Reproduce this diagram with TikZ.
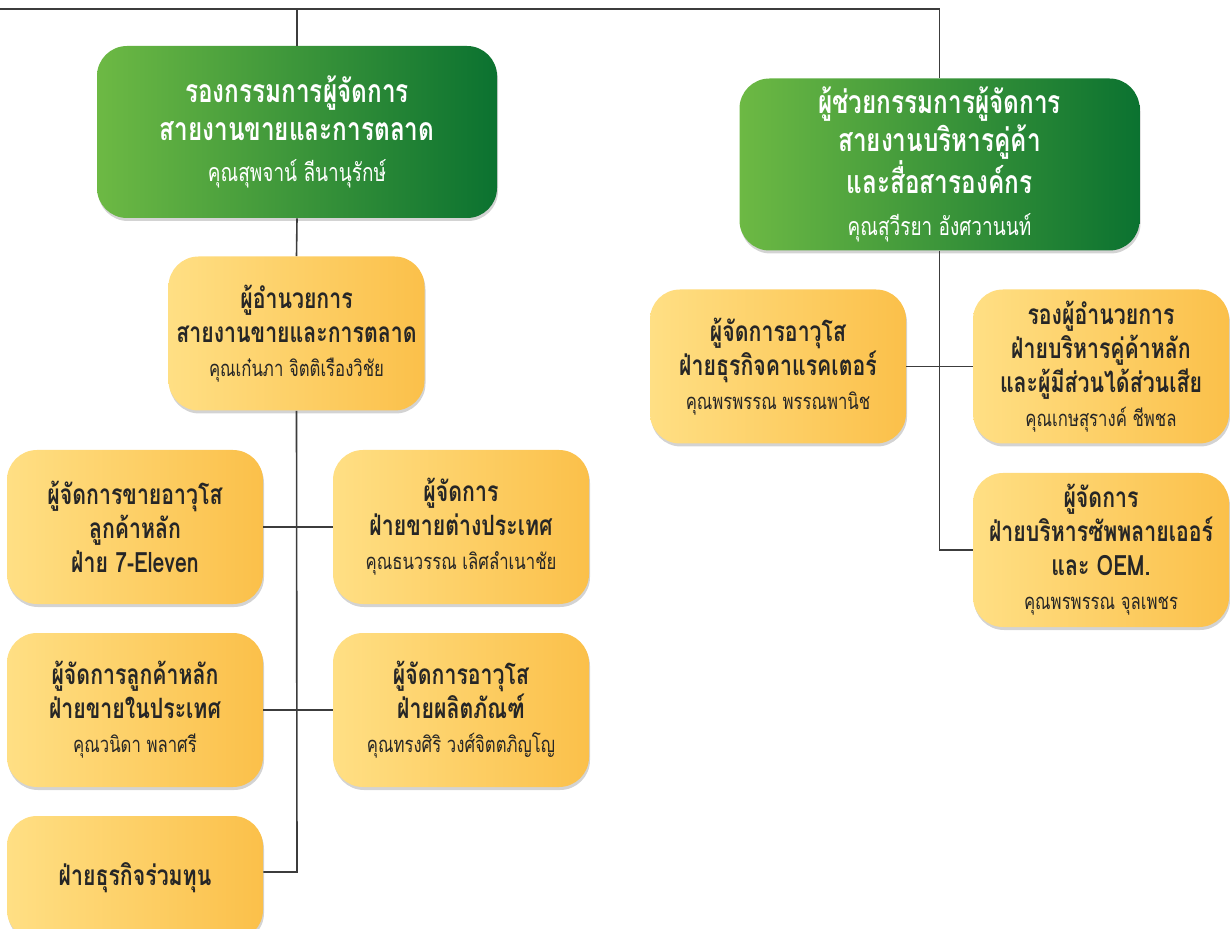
\documentclass[tikz,border=0pt]{standalone}
\usepackage{fontspec}
\newfontfamily\thaifont[Script=Thai, FakeStretch=0.76]{Loma}
\usetikzlibrary{shadows}

\definecolor{boardlight}{HTML}{6DB944}
\definecolor{boarddark}{HTML}{0B7230}
\definecolor{unitlight}{HTML}{FFDF84}
\definecolor{unitdark}{HTML}{FBC04A}
\definecolor{inkgray}{HTML}{262626}
\definecolor{linegray}{HTML}{3C3C3C}

\newcommand{\bossname}{\thaifont\mdseries\fontsize{12.5}{16}\selectfont}
\newcommand{\unitname}{\thaifont\mdseries\fontsize{11}{14}\selectfont}

\tikzset{
  board/.style={rounded corners=15pt, left color=boardlight, right color=boarddark,
    text=white, align=center, inner sep=0pt,
    minimum width=200pt, minimum height=86pt,
    font=\thaifont\bfseries\fontsize{16}{18.8}\selectfont,
    drop shadow={shadow xshift=0.5pt, shadow yshift=-1.5pt, opacity=0.35}},
  unit/.style={rounded corners=15pt, left color=unitlight, right color=unitdark,
    text=inkgray, align=center, inner sep=0pt,
    minimum width=128pt, minimum height=77pt,
    font=\thaifont\bfseries\fontsize{14}{17}\selectfont,
    drop shadow={shadow xshift=0.5pt, shadow yshift=-1.5pt, opacity=0.35}},
  link/.style={draw=linegray, line width=0.8pt},
}

\begin{document}
\begin{tikzpicture}[x=0.5pt,y=-0.5pt]
\useasboundingbox (0,0) rectangle (1230,929);
\coordinate (topleft) at (0,9);
\coordinate (trunkend) at (297,872);
% Management boxes
\node[board] (vpsalesbox) at (297,132)
  {รองกรรมการผู้จัดการ\\สายงานขายและการตลาด\\[2pt]{\bossname คุณสุพจาน์ ลีนานุรักษ์}};
\node[board] (avpbox) at (939.5,164.5)
  {ผู้ช่วยกรรมการผู้จัดการ\\สายงานบริหารคู่ค้า\\และสื่อสารองค์กร\\[2pt]{\bossname คุณสุวีรยา อังศวานนท์}};
% Left branch
\node[unit] (salesdir) at (296.5,333.5)
  {ผู้อำนวยการ\\สายงานขายและการตลาด\\{\unitname คุณเก๋นภา จิตติเรืองวิชัย}};
\node[unit] (sevenmgr) at (135,527)
  {ผู้จัดการขายอาวุโส\\ลูกค้าหลัก\\ฝ่าย 7-Eleven};
\node[unit] (exportmgr) at (461,527)
  {ผู้จัดการ\\ฝ่ายขายต่างประเทศ\\{\unitname คุณธนวรรณ เลิศลำเนาชัย}};
\node[unit] (localmgr) at (135,710)
  {ผู้จัดการลูกค้าหลัก\\ฝ่ายขายในประเทศ\\{\unitname คุณวนิดา พลาศรี}};
\node[unit] (productmgr) at (461,710)
  {ผู้จัดการอาวุโส\\ฝ่ายผลิตภัณฑ์\\{\unitname คุณทรงศิริ วงศ์จิตตภิญโญ}};
\node[unit, minimum height=62pt] (jvunit) at (135,878) {ฝ่ายธุรกิจร่วมทุน};
% Right branch
\node[unit] (charmgr) at (778,366.5)
  {ผู้จัดการอาวุโส\\ฝ่ายธุรกิจคาแรคเตอร์\\{\unitname คุณพรพรรณ พรรณพานิช}};
\node[unit] (keydir) at (1101,366.5)
  {รองผู้อำนวยการ\\ฝ่ายบริหารคู่ค้าหลัก\\และผู้มีส่วนได้ส่วนเสีย\\{\unitname คุณเกษสุรางค์ ชีพชล}};
\node[unit] (suppliermgr) at (1101,550)
  {ผู้จัดการ\\ฝ่ายบริหารซัพพลายเออร์\\และ OEM.\\{\unitname คุณพรพรรณ จุลเพชร}};
% Lines
\draw[link] (topleft) -- (avpbox.north |- topleft) -- (avpbox.north);
\draw[link] (vpsalesbox.north |- topleft) -- (vpsalesbox.north);
\draw[link] (vpsalesbox.south) -- (salesdir.north);
\draw[link] (salesdir.south) -- (trunkend) -- (jvunit.east |- trunkend);
\draw[link] (sevenmgr.east) -- (exportmgr.west);
\draw[link] (localmgr.east) -- (productmgr.west);
\draw[link] (avpbox.south) -- (avpbox.south |- suppliermgr.west) -- (suppliermgr.west);
\draw[link] (charmgr.east) -- (keydir.west);
\end{tikzpicture}
\end{document}
